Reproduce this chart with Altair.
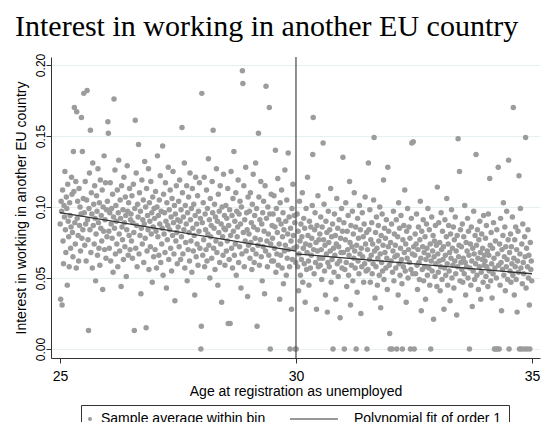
import altair as alt
import pandas as pd

LABEL_PTS = "Sample average within bin"
LABEL_FIT = "Polynomial fit of order 1"
TITLE = "Interest in working in another EU country"
X_TITLE = "Age at registration as unemployed"
Y_TITLE = "Interest in working in another EU country"

# bin averages (in thousandths), ages 25-30, evenly spaced bins
left_y = [
    88, 35, 104, 97, 31, 112, 76, 60, 101, 93, 125, 84, 68, 107, 99, 45, 116, 90, 79, 58,
    103, 94, 71, 86, 121, 109, 82, 65, 139, 111, 170, 89, 74, 118, 57, 167, 92, 104, 80, 62,
    113, 87, 100, 69, 95, 163, 78, 139, 84, 106,
    180, 96, 73, 118, 88, 62, 105, 182, 91, 77, 13, 99, 124, 84, 154, 68, 110, 95, 57, 131,
    87, 102, 74, 115, 92, 48, 81, 108, 97, 66, 127, 89, 71, 103, 59, 119, 85, 94, 76, 112,
    42, 100, 83, 136, 70, 91, 117, 64, 98, 79,
    104, 160, 152, 83, 71, 96, 117, 62, 88, 99, 78, 109, 54, 93, 176, 85, 126, 67, 101, 90,
    74, 112, 58, 96, 133, 81, 69, 105, 92, 44, 115, 86, 77, 98, 63, 121, 89, 72, 107, 94,
    51, 84, 129, 97, 66, 103, 80, 113, 70, 91,
    95, 76, 108, 64, 89, 116, 82, 13, 99, 161, 71, 124, 87, 58, 102, 93, 144, 67, 110, 80,
    97, 39, 85, 119, 74, 91, 105, 61, 88, 132, 78, 100, 15, 113, 69, 94, 84, 127, 56, 103,
    90, 72, 118, 81, 96, 47, 107, 86, 65, 99,
    92, 70, 111, 83, 57, 100, 136, 79, 94, 66, 105, 88, 122, 61, 97, 74, 85, 143, 52, 109,
    81, 96, 68, 117, 90, 43, 103, 77, 87, 128, 63, 98, 84, 112, 71, 93, 55, 106, 80, 125,
    89, 67, 101, 34, 95, 76, 115, 82, 60, 91,
    86, 104, 72, 119, 90, 63, 98, 79, 156, 110, 67, 93, 84, 131, 57, 101, 75, 88, 115, 48,
    96, 70, 107, 82, 62, 124, 91, 76, 99, 54, 113, 85, 69, 102, 80, 38, 94, 121, 65, 88,
    74, 108, 59, 97, 83, 117, 71, 92, 0, 16,
    180, 89, 66, 103, 77, 121, 58, 95, 84, 70, 112, 62, 99, 81, 134, 73, 91, 50, 106, 79,
    87, 64, 118, 96, 154, 71, 85, 102, 56, 93, 76, 127, 68, 90, 45, 109, 82, 97, 61, 115,
    74, 88, 33, 100, 79, 66, 123, 85, 94, 59,
    84, 101, 69, 92, 76, 113, 18, 87, 63, 98, 18, 80, 125, 71, 94, 57, 106, 83, 139, 66,
    90, 74, 110, 52, 97, 79, 86, 119, 61, 95, 72, 104, 88, 43, 100, 67, 196, 187, 82, 115,
    58, 91, 76, 128, 69, 96, 84, 37, 107, 73,
    81, 97, 64, 110, 75, 89, 56, 102, 70, 123, 86, 61, 94, 78, 131, 67, 99, 16, 84, 73,
    152, 107, 59, 91, 77, 118, 65, 88, 48, 96, 72, 104, 83, 39, 115, 69, 185, 92, 76, 58,
    100, 81, 66, 170, 95, 0, 74, 109, 62, 87,
    78, 95, 62, 108, 71, 86, 140, 54, 99, 67, 82, 120, 59, 91, 74, 35, 103, 66, 88, 112,
    57, 79, 96, 46, 84, 69, 126, 73, 90, 52, 105, 64, 81, 138, 70, 93, 58, 0, 85, 76,
    28, 99, 63, 116, 80, 71, 94, 89, 0, 61,
]

# bin averages (in thousandths), ages 30-35
right_y = [
    0, 72, 95, 58, 83, 41, 67, 104, 76, 52, 88, 63, 79, 110, 47, 71, 92, 60, 85, 33,
    74, 99, 56, 68, 121, 80, 62, 45, 90, 73, 57, 86, 66, 78, 101, 137, 163, 70, 53, 84,
    96, 61, 75, 28, 87, 69, 108, 58, 77, 64,
    81, 59, 93, 70, 49, 86, 64, 145, 77, 102, 55, 73, 38, 90, 67, 82, 26, 61, 97, 75,
    58, 84, 69, 113, 47, 79, 63, 88, 0, 71, 54, 95, 66, 80, 35, 74, 106, 60, 85, 51,
    72, 91, 62, 22, 78, 68, 99, 57, 83, 135,
    68, 89, 0, 56, 77, 103, 61, 44, 83, 70, 94, 52, 66, 118, 75, 31, 87, 59, 72, 97,
    48, 81, 64, 110, 69, 57, 86, 0, 73, 40, 92, 62, 78, 53, 101, 67, 84, 25, 71, 58,
    96, 65, 79, 47, 88, 60, 107, 74, 55, 82,
    0, 70, 56, 131, 84, 63, 98, 47, 77, 66, 89, 53, 74, 60, 105, 149, 69, 36, 82, 58,
    93, 71, 45, 64, 87, 76, 52, 100, 67, 29, 80, 61, 95, 55, 73, 119, 49, 85, 68, 78,
    57, 91, 64, 42, 128, 72, 83, 59, 11, 0,
    75, 62, 88, 0, 54, 69, 97, 48, 81, 65, 73, 57, 91, 0, 66, 79, 38, 103, 60, 85,
    52, 71, 94, 63, 46, 0, 77, 58, 87, 68, 112, 55, 74, 33, 83, 64, 99, 50, 70, 86,
    61, 78, 0, 56, 92, 145, 67, 53, 146, 72,
    0, 66, 81, 53, 74, 95, 59, 42, 70, 86, 61, 49, 77, 104, 64, 27, 83, 56, 72, 91,
    48, 68, 58, 79, 35, 63, 88, 71, 52, 99, 66, 57, 84, 45, 74, 0, 62, 93, 55, 69,
    80, 21, 65, 76, 51, 87, 60, 73, 44, 114,
    67, 54, 89, 62, 75, 41, 58, 96, 70, 49, 83, 63, 72, 28, 57, 91, 66, 52, 79, 106,
    60, 45, 74, 87, 55, 68, 34, 81, 64, 98, 50, 71, 59, 86, 43, 77, 62, 93, 53, 69,
    24, 80, 58, 148, 65, 73, 125, 48, 84, 61,
    72, 56, 88, 47, 64, 79, 53, 101, 61, 38, 75, 58, 69, 92, 50, 83, 66, 0, 57, 74,
    45, 86, 62, 30, 71, 55, 97, 67, 49, 80, 60, 137, 73, 52, 84, 64, 42, 77, 58, 90,
    68, 35, 54, 81, 63, 71, 47, 94, 59, 66,
    62, 78, 51, 87, 58, 69, 44, 95, 66, 55, 120, 73, 48, 82, 60, 36, 71, 53, 89, 64,
    0, 57, 76, 0, 50, 84, 0, 67, 128, 59, 0, 74, 45, 92, 61, 27, 70, 56, 80, 103,
    52, 65, 86, 41, 72, 58, 97, 63, 49, 77,
    133, 0, 68, 55, 81, 47, 72, 60, 93, 52, 170, 64, 38, 77, 58, 86, 49, 70, 26, 62,
    83, 54, 122, 0, 67, 99, 57, 0, 74, 46, 88, 61, 53, 0, 79, 65, 149, 43, 71, 0,
    58, 84, 50, 66, 31, 0, 75, 56, 62, 48,
]

# linear fits (endpoints per side)
fit_left_x = [25.0, 30.0]
fit_left_y = [0.096, 0.069]
fit_right_x = [30.0, 35.0]
fit_right_y = [0.067, 0.053]
cutoff = [30.0]

x_ticks = [25, 30, 35]
y_ticks = [0.0, 0.05, 0.10, 0.15, 0.20]

rows = []
for start, vals in ((25.0, left_y), (30.0, right_y)):
    w = 5.0 / len(vals)
    for i, v in enumerate(vals):
        rows.append({"age": start + (i + 0.5) * w, "share": v / 1000.0, "series": LABEL_PTS})
pts = pd.DataFrame(rows)

fit = pd.DataFrame({
    "age": fit_left_x + fit_right_x,
    "share": fit_left_y + fit_right_y,
    "side": ["left", "left", "right", "right"],
})
cut_df = pd.DataFrame({"cut": cutoff})

FONT = "Liberation Sans"
xscale = alt.Scale(domain=[24.81, 35.17], nice=False, zero=False)
yscale = alt.Scale(domain=[-0.0063, 0.2056], nice=False, zero=False)

x_axis = alt.Axis(values=x_ticks, title=X_TITLE, grid=False, tickSize=5,
                  labelFont=FONT, labelFontSize=14, labelColor="black", labelPadding=6,
                  titleFont=FONT, titleFontSize=14, titleFontWeight="normal",
                  titleColor="black", titlePadding=1,
                  domainColor="#333333", tickColor="#333333")
y_axis = alt.Axis(values=y_ticks, format=".2f", title=Y_TITLE, grid=True,
                  gridColor="#e6eff2", gridWidth=1, tickSize=5,
                  labelAngle=270, labelAlign="center", labelBaseline="alphabetic",
                  labelFont=FONT, labelFontSize=12, labelColor="black", labelPadding=2,
                  titleFont=FONT, titleFontSize=14, titleFontWeight="normal",
                  titleColor="black", titlePadding=6,
                  domainColor="#333333", tickColor="#333333")

# legend symbol for the fit: a thin horizontal bar drawn left of its label
LINE_SYMBOL = "M-26.5,-0.3L-2.5,-0.3L-2.5,0.3L-26.5,0.3Z"

legend = alt.Legend(
    title=None, orient="none", legendX=30, legendY=348, direction="horizontal",
    strokeColor="#333333", fillColor="white", padding=7,
    labelFont=FONT, labelFontSize=14, labelColor="black", labelLimit=0,
    symbolSize=16, symbolStrokeWidth=0, symbolOpacity=1, symbolOffset=-5,
    labelOffset=4, columnPadding=24,
)

points = alt.Chart(pts).mark_point(filled=True, size=30, opacity=1).encode(
    x=alt.X("age:Q", scale=xscale, axis=x_axis),
    y=alt.Y("share:Q", scale=yscale, axis=y_axis),
    color=alt.Color("series:N",
                    scale=alt.Scale(domain=[LABEL_PTS, LABEL_FIT], range=["#9c9c9c", "#333333"]),
                    legend=legend),
    shape=alt.Shape("series:N",
                    scale=alt.Scale(domain=[LABEL_PTS, LABEL_FIT], range=["circle", LINE_SYMBOL]),
                    legend=legend),
)

lines = alt.Chart(fit).mark_line(color="#333333", strokeWidth=1.3).encode(
    x=alt.X("age:Q", scale=xscale),
    y=alt.Y("share:Q", scale=yscale),
    detail="side:N",
)

rule = alt.Chart(cut_df).mark_rule(color="#555555", strokeWidth=1.3).encode(
    x=alt.X("cut:Q", scale=xscale),
)

chart = alt.layer(points, lines, rule).properties(
    width=489, height=301,
    autosize=alt.AutoSizeParams(type="none"),
    padding={"left": 43, "top": 49, "right": 11, "bottom": 64},
    title=alt.TitleParams(TITLE, font="Liberation Serif", fontSize=30, fontWeight="normal",
                          color="black", anchor="start", frame="group", dx=-36, offset=11),
    background="white",
).configure_view(strokeWidth=0)

chart.save("out.html", embed_options={"renderer": "svg", "actions": False})
